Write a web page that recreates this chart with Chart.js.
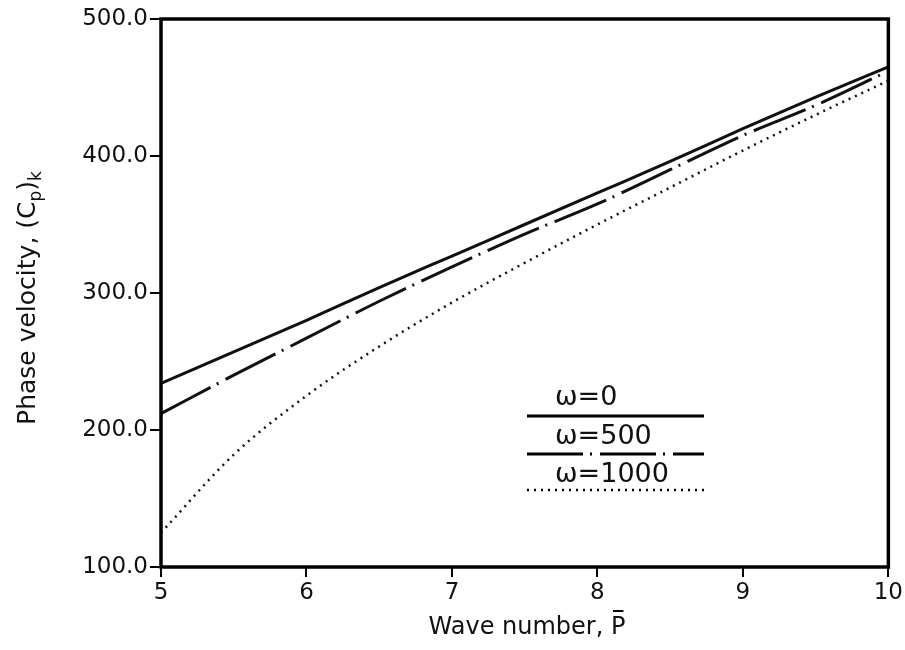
<!DOCTYPE html>
<html>
<head>
<meta charset="utf-8">
<script src="https://cdn.jsdelivr.net/npm/chart.js@4/dist/chart.umd.min.js"></script>
<style>
  html, body { margin: 0; padding: 0; background: #fff; }
  #wrap { width: 905px; height: 650px; }
</style>
</head>
<body>
<div id="wrap"><canvas id="phaseChart"></canvas></div>
<script>
// wave number values (x)
const waveNumbers = [5, 5.5, 6, 6.5, 7, 7.5, 8, 8.5, 9, 9.5, 10];
// phase velocity, one list per omega
const omega0 = [234, 257, 280, 304, 327, 350, 373, 396, 420, 443, 465];
const omega500 = [212, 240, 267, 294, 319, 343, 365, 390, 415, 437, 462];
const omega1000 = [125, 182, 225, 261, 293, 322, 350, 377, 404, 430, 455];
const seriesLabels = ['ω=0', 'ω=500', 'ω=1000'];
const xTicks = [5, 6, 7, 8, 9, 10];
const yTicks = [100, 200, 300, 400, 500];

const FONT = '"DejaVu Sans", sans-serif';

function toPoints(ys) {
  return waveNumbers.map((x, i) => ({ x: x, y: ys[i] }));
}

// dash styles, kept apart from the data
const styles = [
  { dash: [], width: 3 },
  { dash: [56, 7, 2, 8], width: 3 },
  { dash: [2, 5], width: 2.5 }
];

// frame, axis titles and the legend inside the plot
const extras = {
  id: 'extras',
  afterDatasetsDraw(chart) {
    const ctx = chart.ctx;
    const a = chart.chartArea;
    ctx.save();
    ctx.strokeStyle = '#000';
    ctx.lineWidth = 3.5;
    ctx.setLineDash([]);
    ctx.strokeRect(a.left, a.top, a.right - a.left, a.bottom - a.top);

    // legend
    const lx1 = 527, lx2 = 704;
    const textY = [398, 437, 475];
    const lineY = [416, 454, 490];
    ctx.fillStyle = '#111';
    ctx.font = '27px ' + FONT;
    ctx.textAlign = 'left';
    ctx.textBaseline = 'middle';
    chart.data.datasets.forEach((ds, i) => {
      ctx.fillText(ds.label, 555, textY[i]);
      ctx.beginPath();
      ctx.lineWidth = styles[i].width;
      ctx.setLineDash(styles[i].dash);
      ctx.moveTo(lx1, lineY[i]);
      ctx.lineTo(lx2, lineY[i]);
      ctx.stroke();
    });
    ctx.setLineDash([]);

    // x title with bar over P
    ctx.font = '24px ' + FONT;
    ctx.textBaseline = 'alphabetic';
    const xt1 = 'Wave number, ';
    const xt2 = 'P';
    const w1 = ctx.measureText(xt1).width;
    const w2 = ctx.measureText(xt2).width;
    let sx = 527 - (w1 + w2) / 2;
    ctx.fillText(xt1, sx, 634);
    ctx.fillText(xt2, sx + w1, 634);
    ctx.lineWidth = 2;
    ctx.beginPath();
    ctx.moveTo(sx + w1 + 2, 611);
    ctx.lineTo(sx + w1 + w2 - 2, 611);
    ctx.stroke();

    // y title, rotated, with subscripts
    ctx.translate(35, 298);
    ctx.rotate(-Math.PI / 2);
    const big = '25px ' + FONT;
    const small = '17px ' + FONT;
    const parts = [
      { t: 'Phase velocity, (C', f: big, dy: 0 },
      { t: 'p', f: small, dy: 6 },
      { t: ')', f: big, dy: 0 },
      { t: 'k', f: small, dy: 6 }
    ];
    let total = 0;
    parts.forEach(p => { ctx.font = p.f; p.w = ctx.measureText(p.t).width; total += p.w; });
    let px = -total / 2;
    parts.forEach(p => {
      ctx.font = p.f;
      ctx.fillText(p.t, px, p.dy);
      px += p.w;
    });
    ctx.restore();
  }
};

new Chart(document.getElementById('phaseChart'), {
  type: 'line',
  data: {
    datasets: [omega0, omega500, omega1000].map((ys, i) => ({
      label: seriesLabels[i],
      data: toPoints(ys),
      borderColor: '#111',
      borderWidth: styles[i].width,
      borderDash: styles[i].dash,
      pointRadius: 0,
      cubicInterpolationMode: 'monotone',
      fill: false
    }))
  },
  options: {
    responsive: true,
    maintainAspectRatio: false,
    animation: false,
    layout: { padding: { left: 0, right: 16, top: 19, bottom: 0 } },
    plugins: { legend: { display: false }, tooltip: { enabled: false } },
    scales: {
      x: {
        type: 'linear',
        min: 5,
        max: 10,
        afterFit(scale) { scale.height = 83; },
        afterBuildTicks(scale) { scale.ticks = xTicks.map(v => ({ value: v })); },
        border: { display: false },
        grid: { drawOnChartArea: false, drawTicks: true, tickLength: 10, lineWidth: 2, color: '#000' },
        ticks: { color: '#111', font: { family: FONT, size: 23 }, padding: 2, maxRotation: 0 }
      },
      y: {
        min: 100,
        max: 500,
        afterFit(scale) { scale.width = 161; },
        afterBuildTicks(scale) { scale.ticks = yTicks.map(v => ({ value: v })); },
        border: { display: false },
        grid: { drawOnChartArea: false, drawTicks: true, tickLength: 11, lineWidth: 2, color: '#000' },
        ticks: {
          color: '#111',
          font: { family: FONT, size: 23 },
          padding: 2,
          callback: v => v.toFixed(1)
        }
      }
    }
  },
  plugins: [extras]
});
</script>
</body>
</html>
